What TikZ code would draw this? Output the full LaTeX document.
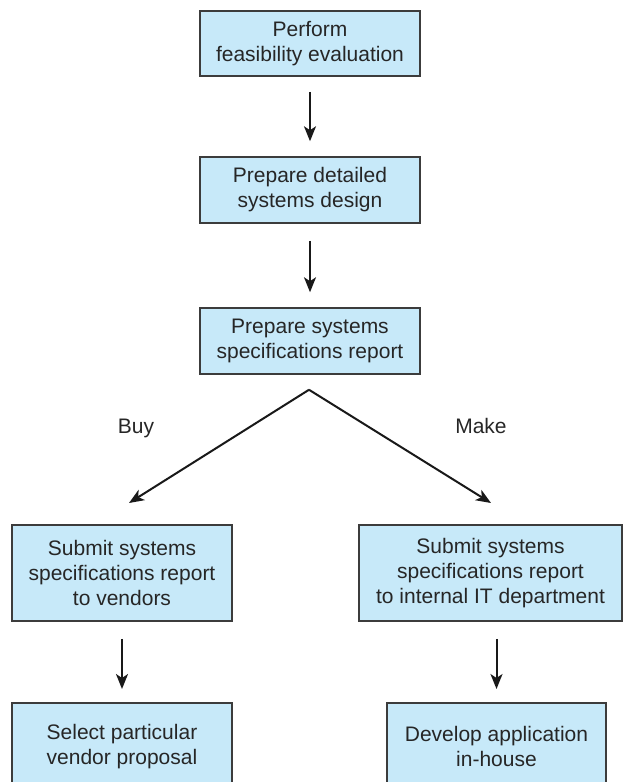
\documentclass[tikz,border=0pt]{standalone}
\usepackage{fontspec}
\setmainfont{Liberation Sans}
\usetikzlibrary{arrows.meta,calc}
\definecolor{boxfill}{RGB}{199,233,249}
\definecolor{boxline}{RGB}{60,60,60}
\definecolor{arrowcol}{RGB}{25,25,25}
\tikzset{
  box/.style={draw=boxline, line width=1.5pt, fill=boxfill, rectangle, align=center,
    inner sep=0pt, font=\fontsize{21}{25}\selectfont, text=black!85},
  flow/.style={draw=arrowcol, line width=2pt, -{Stealth[length=15pt,width=12pt,inset=4pt]}},
  lbl/.style={font=\fontsize{21}{25}\selectfont, text=black!85, anchor=base}
}
\begin{document}
\begin{tikzpicture}[x=1pt,y=-1pt]
\useasboundingbox (0,0) rectangle (623,782);
\clip (0,0) rectangle (623,782);
\node[box, minimum width=220pt, minimum height=65pt] (b1) at (310,43.5) {Perform\\feasibility evaluation};
\node[box, minimum width=220pt, minimum height=66pt] (b2) at (310,190) {Prepare detailed\\systems design};
\node[box, minimum width=220pt, minimum height=66pt] (b3) at (310,341) {Prepare systems\\specifications report};
\node[box, minimum width=220pt, minimum height=96pt] (b4) at (122,573) {Submit systems\\specifications report\\to vendors};
\node[box, minimum width=263pt, minimum height=96pt] (b5) at (490.5,573) {Submit systems\\specifications report\\to internal IT department};
\node[box, minimum width=220pt, minimum height=88pt, anchor=north] (b6) at (122,702) {Select particular\\vendor proposal};
\node[box, minimum width=219pt, minimum height=88pt, anchor=north] (b7) at (496.5,702) {Develop application\\in-house};

\draw[flow, shorten <=15pt, shorten >=15pt] (b1) -- (b2);
\draw[flow, shorten <=17pt, shorten >=15pt] (b2) -- (b3);
\draw[flow, shorten <=17pt, shorten >=13pt] (b4.south) -- (b4.south |- b6.north);
\draw[flow, shorten <=17pt, shorten >=13pt] (b7.north |- b5.south) -- (b7.north);

\coordinate (apex) at ($(b3.south)+(-1,15)$);
\coordinate (tl) at (129,503);
\coordinate (tr) at (491,503);
\draw[flow] (apex) -- (tl);
\draw[flow] (apex) -- (tr);
\node[lbl] (buy) at (136,433) {Buy};
\node[lbl] (make) at (481,433) {Make};
\end{tikzpicture}
\end{document}
